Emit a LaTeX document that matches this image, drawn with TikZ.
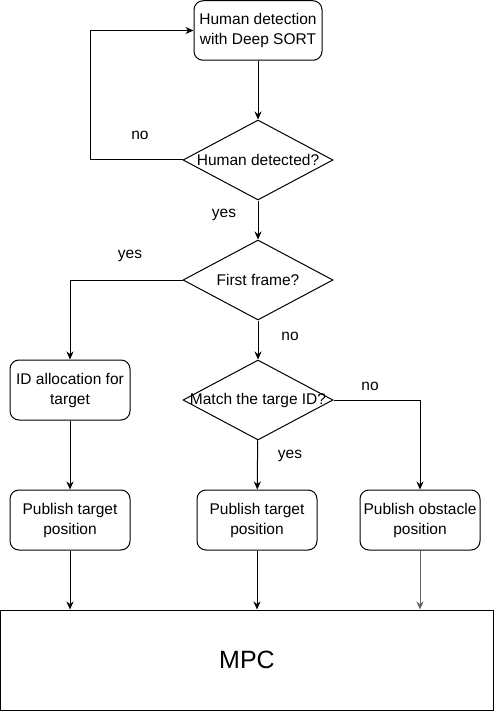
\documentclass[tikz,border=0pt]{standalone}
\usepackage{fontspec}
\setmainfont{Liberation Sans}
\usetikzlibrary{shapes.geometric,arrows.meta}
\begin{document}
\begin{tikzpicture}[x=1pt,y=-1pt, every label/.style={font={\fontsize{15.5}{20}\selectfont}}]
	\tikzstyle{proc} = [ draw, rounded corners=9pt, line width=1pt, minimum width=120pt, minimum height=60pt, align=center, font={\fontsize{15.5}{20}\selectfont}];
	\tikzstyle{test} = [ draw, diamond, line width=1pt, minimum width=150pt, minimum height=80pt, inner sep=0pt];
	\tikzstyle{info} = [font={\fontsize{15.5}{18}\selectfont}];
	\tikzstyle{flow} = [ -{Stealth[length=8pt,width=7pt]}, line width=1pt];

	\useasboundingbox (0,0) rectangle (494,711);

	\node[proc, minimum width=128pt, minimum height=59.5pt] (detect) at (258,30.5) {Human detection\\with Deep SORT};
	\node[test, label=center:{Human detected?}] (hdet) at (258,160) {};
	\node[test, label=center:{First frame?}] (first) at (258,280) {};
	\node[test, label=center:{Match the targe ID?}] (match) at (258,400) {};

	\node[proc] (alloc) at (70,390) {ID allocation for\\target};
	\node[proc] (publeft) at (70,520) {Publish target\\position};
	\node[proc] (pubmid) at (257,520) {Publish target\\position};
	\node[proc] (pubobs) at (420,520) {Publish obstacle\\position};

	\node[draw, line width=1pt, minimum width=493pt, minimum height=100pt, font={\fontsize{25}{28}\selectfont}] (mpc) at (247,660) {MPC};

	\draw[flow] (detect) -- (hdet);
	\draw[flow] (hdet.west) -- ++(-92,0) |- (detect);
	\draw[flow] (hdet) -- (first);
	\draw[flow] (first.west) -| (alloc);
	\draw[flow] (first) -- (match);
	\draw[flow] (match.east) -| (pubobs);
	\draw[flow] (match) -- (pubmid);
	\draw[flow] (alloc) -- (publeft);

	\draw[flow] (publeft) -- (publeft |- mpc.north);
	\draw[flow] (pubmid) -- (pubmid |- mpc.north);
	\draw[flow, draw=black!60] (pubobs) -- (pubobs |- mpc.north);

	\node[info] (no1) at (140,135) {no};
	\node[info] (yes1) at (224,215) {yes};
	\node[info] (yes2) at (130,256) {yes};
	\node[info] (no2) at (290,336) {no};
	\node[info] (no3) at (370,386) {no};
	\node[info] (yes3) at (290,456) {yes};
\end{tikzpicture}
\end{document}
